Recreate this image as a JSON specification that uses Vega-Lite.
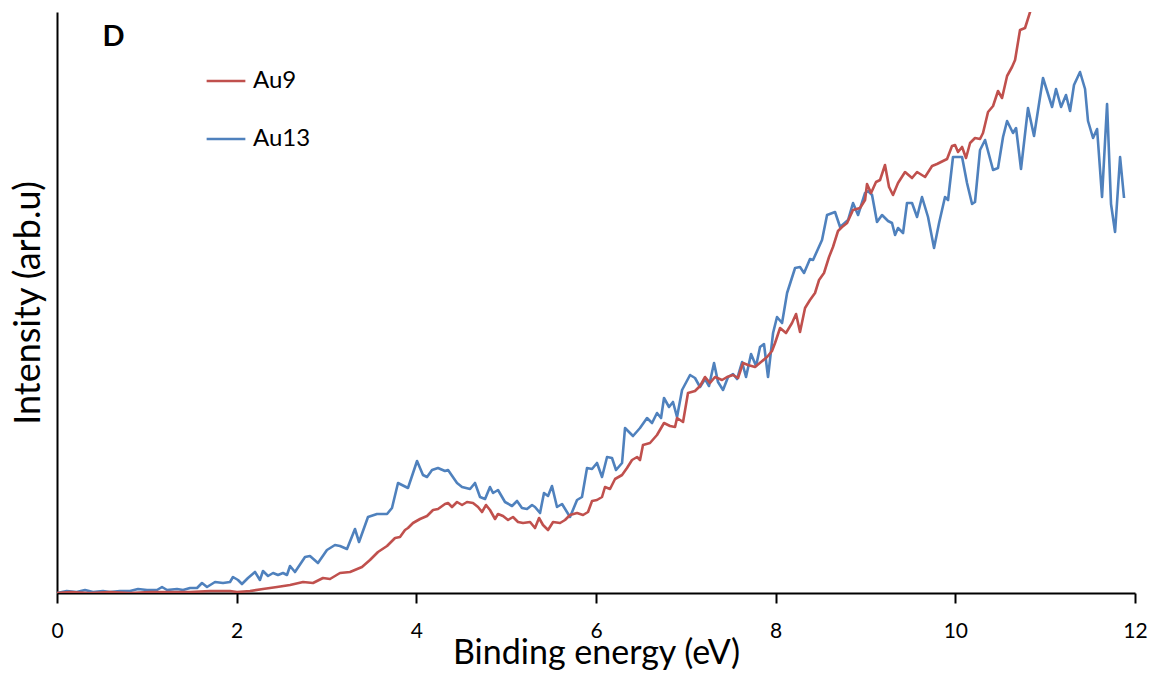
{
  "$schema": "https://vega.github.io/schema/vega-lite/v6.json",
  "width": 1078,
  "height": 581,
  "autosize": {"type": "none"},
  "padding": {"left": 57, "top": 12, "right": 26, "bottom": 82},
  "background": "white",
  "config": {
    "view": {"stroke": null},
    "font": "Lato"
  },
  "layer": [
    {
      "data": {"values": [
        {"s":"Au13","x":0.0,"y":0},{"s":"Au13","x":0.108,"y":2},{"s":"Au13","x":0.219,"y":1},{"s":"Au13","x":0.312,"y":3},{"s":"Au13","x":0.401,"y":1},{"s":"Au13","x":0.512,"y":2},{"s":"Au13","x":0.59,"y":1},{"s":"Au13","x":0.701,"y":2},{"s":"Au13","x":0.813,"y":2},{"s":"Au13","x":0.902,"y":4},{"s":"Au13","x":1.002,"y":3},{"s":"Au13","x":1.113,"y":3},{"s":"Au13","x":1.169,"y":6},{"s":"Au13","x":1.225,"y":3},{"s":"Au13","x":1.336,"y":4},{"s":"Au13","x":1.403,"y":3},{"s":"Au13","x":1.481,"y":5},{"s":"Au13","x":1.559,"y":5},{"s":"Au13","x":1.614,"y":10},{"s":"Au13","x":1.67,"y":6},{"s":"Au13","x":1.759,"y":11},{"s":"Au13","x":1.848,"y":10},{"s":"Au13","x":1.926,"y":11},{"s":"Au13","x":1.959,"y":16},{"s":"Au13","x":2.015,"y":13},{"s":"Au13","x":2.059,"y":9},{"s":"Au13","x":2.126,"y":15},{"s":"Au13","x":2.204,"y":21},{"s":"Au13","x":2.259,"y":13},{"s":"Au13","x":2.293,"y":22},{"s":"Au13","x":2.349,"y":17},{"s":"Au13","x":2.405,"y":20},{"s":"Au13","x":2.46,"y":18},{"s":"Au13","x":2.516,"y":20},{"s":"Au13","x":2.56,"y":18},{"s":"Au13","x":2.594,"y":27},{"s":"Au13","x":2.649,"y":21},{"s":"Au13","x":2.761,"y":36},{"s":"Au13","x":2.816,"y":37},{"s":"Au13","x":2.905,"y":30},{"s":"Au13","x":3.005,"y":43},{"s":"Au13","x":3.094,"y":48},{"s":"Au13","x":3.15,"y":47},{"s":"Au13","x":3.228,"y":44},{"s":"Au13","x":3.317,"y":64},{"s":"Au13","x":3.362,"y":51},{"s":"Au13","x":3.462,"y":76},{"s":"Au13","x":3.562,"y":79},{"s":"Au13","x":3.674,"y":79},{"s":"Au13","x":3.729,"y":85},{"s":"Au13","x":3.796,"y":110},{"s":"Au13","x":3.907,"y":105},{"s":"Au13","x":4.008,"y":132},{"s":"Au13","x":4.074,"y":118},{"s":"Au13","x":4.119,"y":116},{"s":"Au13","x":4.175,"y":123},{"s":"Au13","x":4.241,"y":125},{"s":"Au13","x":4.319,"y":122},{"s":"Au13","x":4.353,"y":123},{"s":"Au13","x":4.453,"y":110},{"s":"Au13","x":4.509,"y":106},{"s":"Au13","x":4.598,"y":104},{"s":"Au13","x":4.653,"y":110},{"s":"Au13","x":4.709,"y":96},{"s":"Au13","x":4.765,"y":94},{"s":"Au13","x":4.82,"y":106},{"s":"Au13","x":4.854,"y":100},{"s":"Au13","x":4.909,"y":103},{"s":"Au13","x":4.987,"y":91},{"s":"Au13","x":5.065,"y":87},{"s":"Au13","x":5.121,"y":92},{"s":"Au13","x":5.176,"y":85},{"s":"Au13","x":5.232,"y":84},{"s":"Au13","x":5.288,"y":88},{"s":"Au13","x":5.321,"y":86},{"s":"Au13","x":5.377,"y":80},{"s":"Au13","x":5.421,"y":100},{"s":"Au13","x":5.466,"y":97},{"s":"Au13","x":5.51,"y":107},{"s":"Au13","x":5.566,"y":86},{"s":"Au13","x":5.622,"y":89},{"s":"Au13","x":5.711,"y":76},{"s":"Au13","x":5.789,"y":93},{"s":"Au13","x":5.844,"y":96},{"s":"Au13","x":5.9,"y":125},{"s":"Au13","x":5.956,"y":124},{"s":"Au13","x":6.011,"y":130},{"s":"Au13","x":6.067,"y":116},{"s":"Au13","x":6.123,"y":136},{"s":"Au13","x":6.178,"y":135},{"s":"Au13","x":6.223,"y":123},{"s":"Au13","x":6.29,"y":130},{"s":"Au13","x":6.323,"y":165},{"s":"Au13","x":6.412,"y":157},{"s":"Au13","x":6.49,"y":165},{"s":"Au13","x":6.568,"y":175},{"s":"Au13","x":6.624,"y":170},{"s":"Au13","x":6.679,"y":180},{"s":"Au13","x":6.724,"y":175},{"s":"Au13","x":6.757,"y":195},{"s":"Au13","x":6.813,"y":186},{"s":"Au13","x":6.857,"y":191},{"s":"Au13","x":6.902,"y":176},{"s":"Au13","x":6.958,"y":203},{"s":"Au13","x":7.047,"y":218},{"s":"Au13","x":7.102,"y":215},{"s":"Au13","x":7.158,"y":206},{"s":"Au13","x":7.214,"y":214},{"s":"Au13","x":7.258,"y":207},{"s":"Au13","x":7.314,"y":230},{"s":"Au13","x":7.358,"y":211},{"s":"Au13","x":7.414,"y":203},{"s":"Au13","x":7.47,"y":216},{"s":"Au13","x":7.525,"y":219},{"s":"Au13","x":7.57,"y":214},{"s":"Au13","x":7.626,"y":231},{"s":"Au13","x":7.67,"y":216},{"s":"Au13","x":7.726,"y":239},{"s":"Au13","x":7.782,"y":227},{"s":"Au13","x":7.826,"y":246},{"s":"Au13","x":7.87,"y":249},{"s":"Au13","x":7.915,"y":216},{"s":"Au13","x":7.971,"y":260},{"s":"Au13","x":8.015,"y":276},{"s":"Au13","x":8.071,"y":270},{"s":"Au13","x":8.127,"y":300},{"s":"Au13","x":8.216,"y":325},{"s":"Au13","x":8.271,"y":326},{"s":"Au13","x":8.316,"y":320},{"s":"Au13","x":8.382,"y":334},{"s":"Au13","x":8.416,"y":333},{"s":"Au13","x":8.516,"y":353},{"s":"Au13","x":8.572,"y":378},{"s":"Au13","x":8.661,"y":381},{"s":"Au13","x":8.717,"y":366},{"s":"Au13","x":8.806,"y":373},{"s":"Au13","x":8.861,"y":390},{"s":"Au13","x":8.917,"y":378},{"s":"Au13","x":8.995,"y":400},{"s":"Au13","x":9.028,"y":402},{"s":"Au13","x":9.073,"y":398},{"s":"Au13","x":9.128,"y":371},{"s":"Au13","x":9.184,"y":378},{"s":"Au13","x":9.251,"y":372},{"s":"Au13","x":9.295,"y":370},{"s":"Au13","x":9.329,"y":358},{"s":"Au13","x":9.362,"y":365},{"s":"Au13","x":9.418,"y":360},{"s":"Au13","x":9.462,"y":390},{"s":"Au13","x":9.518,"y":390},{"s":"Au13","x":9.574,"y":376},{"s":"Au13","x":9.629,"y":396},{"s":"Au13","x":9.696,"y":376},{"s":"Au13","x":9.763,"y":345},{"s":"Au13","x":9.819,"y":370},{"s":"Au13","x":9.885,"y":396},{"s":"Au13","x":9.919,"y":393},{"s":"Au13","x":9.974,"y":436},{"s":"Au13","x":10.075,"y":436},{"s":"Au13","x":10.13,"y":410},{"s":"Au13","x":10.186,"y":389},{"s":"Au13","x":10.219,"y":391},{"s":"Au13","x":10.275,"y":443},{"s":"Au13","x":10.331,"y":453},{"s":"Au13","x":10.42,"y":423},{"s":"Au13","x":10.475,"y":425},{"s":"Au13","x":10.531,"y":456},{"s":"Au13","x":10.576,"y":472},{"s":"Au13","x":10.642,"y":460},{"s":"Au13","x":10.676,"y":465},{"s":"Au13","x":10.731,"y":424},{"s":"Au13","x":10.809,"y":485},{"s":"Au13","x":10.876,"y":457},{"s":"Au13","x":10.976,"y":515},{"s":"Au13","x":11.077,"y":486},{"s":"Au13","x":11.121,"y":504},{"s":"Au13","x":11.177,"y":486},{"s":"Au13","x":11.232,"y":498},{"s":"Au13","x":11.277,"y":482},{"s":"Au13","x":11.321,"y":508},{"s":"Au13","x":11.388,"y":521},{"s":"Au13","x":11.444,"y":504},{"s":"Au13","x":11.477,"y":472},{"s":"Au13","x":11.533,"y":455},{"s":"Au13","x":11.578,"y":464},{"s":"Au13","x":11.633,"y":396},{"s":"Au13","x":11.689,"y":489},{"s":"Au13","x":11.733,"y":389},{"s":"Au13","x":11.778,"y":361},{"s":"Au13","x":11.834,"y":436},{"s":"Au13","x":11.878,"y":395},
        {"s":"Au9","x":0.0,"y":0},{"s":"Au9","x":0.145,"y":1},{"s":"Au9","x":0.367,"y":0},{"s":"Au9","x":0.59,"y":1},{"s":"Au9","x":0.813,"y":0},{"s":"Au9","x":1.035,"y":1},{"s":"Au9","x":1.258,"y":1},{"s":"Au9","x":1.481,"y":1},{"s":"Au9","x":1.703,"y":2},{"s":"Au9","x":1.926,"y":2},{"s":"Au9","x":2.004,"y":1},{"s":"Au9","x":2.149,"y":2},{"s":"Au9","x":2.293,"y":4},{"s":"Au9","x":2.449,"y":6},{"s":"Au9","x":2.594,"y":8},{"s":"Au9","x":2.739,"y":11},{"s":"Au9","x":2.85,"y":10},{"s":"Au9","x":2.961,"y":15},{"s":"Au9","x":3.039,"y":14},{"s":"Au9","x":3.15,"y":20},{"s":"Au9","x":3.262,"y":21},{"s":"Au9","x":3.395,"y":26},{"s":"Au9","x":3.484,"y":33},{"s":"Au9","x":3.573,"y":41},{"s":"Au9","x":3.674,"y":47},{"s":"Au9","x":3.763,"y":55},{"s":"Au9","x":3.818,"y":56},{"s":"Au9","x":3.874,"y":63},{"s":"Au9","x":3.907,"y":65},{"s":"Au9","x":3.963,"y":70},{"s":"Au9","x":4.041,"y":74},{"s":"Au9","x":4.119,"y":77},{"s":"Au9","x":4.186,"y":83},{"s":"Au9","x":4.241,"y":84},{"s":"Au9","x":4.319,"y":89},{"s":"Au9","x":4.353,"y":90},{"s":"Au9","x":4.397,"y":86},{"s":"Au9","x":4.453,"y":91},{"s":"Au9","x":4.509,"y":88},{"s":"Au9","x":4.564,"y":91},{"s":"Au9","x":4.631,"y":90},{"s":"Au9","x":4.687,"y":86},{"s":"Au9","x":4.731,"y":81},{"s":"Au9","x":4.776,"y":88},{"s":"Au9","x":4.82,"y":83},{"s":"Au9","x":4.876,"y":74},{"s":"Au9","x":4.909,"y":79},{"s":"Au9","x":4.965,"y":77},{"s":"Au9","x":5.021,"y":73},{"s":"Au9","x":5.076,"y":76},{"s":"Au9","x":5.132,"y":71},{"s":"Au9","x":5.188,"y":70},{"s":"Au9","x":5.266,"y":71},{"s":"Au9","x":5.321,"y":65},{"s":"Au9","x":5.366,"y":75},{"s":"Au9","x":5.41,"y":68},{"s":"Au9","x":5.466,"y":63},{"s":"Au9","x":5.522,"y":71},{"s":"Au9","x":5.6,"y":70},{"s":"Au9","x":5.655,"y":73},{"s":"Au9","x":5.711,"y":78},{"s":"Au9","x":5.789,"y":80},{"s":"Au9","x":5.856,"y":78},{"s":"Au9","x":5.911,"y":81},{"s":"Au9","x":5.956,"y":92},{"s":"Au9","x":6.011,"y":93},{"s":"Au9","x":6.067,"y":96},{"s":"Au9","x":6.1,"y":106},{"s":"Au9","x":6.156,"y":104},{"s":"Au9","x":6.212,"y":114},{"s":"Au9","x":6.29,"y":118},{"s":"Au9","x":6.345,"y":125},{"s":"Au9","x":6.401,"y":133},{"s":"Au9","x":6.457,"y":136},{"s":"Au9","x":6.49,"y":133},{"s":"Au9","x":6.523,"y":148},{"s":"Au9","x":6.601,"y":150},{"s":"Au9","x":6.679,"y":158},{"s":"Au9","x":6.757,"y":170},{"s":"Au9","x":6.824,"y":167},{"s":"Au9","x":6.88,"y":166},{"s":"Au9","x":6.902,"y":175},{"s":"Au9","x":6.969,"y":171},{"s":"Au9","x":7.024,"y":200},{"s":"Au9","x":7.102,"y":202},{"s":"Au9","x":7.158,"y":207},{"s":"Au9","x":7.214,"y":216},{"s":"Au9","x":7.269,"y":210},{"s":"Au9","x":7.325,"y":216},{"s":"Au9","x":7.403,"y":213},{"s":"Au9","x":7.459,"y":216},{"s":"Au9","x":7.525,"y":218},{"s":"Au9","x":7.581,"y":215},{"s":"Au9","x":7.637,"y":230},{"s":"Au9","x":7.692,"y":228},{"s":"Au9","x":7.77,"y":226},{"s":"Au9","x":7.837,"y":231},{"s":"Au9","x":7.904,"y":236},{"s":"Au9","x":7.959,"y":242},{"s":"Au9","x":7.993,"y":250},{"s":"Au9","x":8.049,"y":265},{"s":"Au9","x":8.115,"y":260},{"s":"Au9","x":8.182,"y":270},{"s":"Au9","x":8.227,"y":279},{"s":"Au9","x":8.271,"y":261},{"s":"Au9","x":8.327,"y":285},{"s":"Au9","x":8.382,"y":293},{"s":"Au9","x":8.438,"y":300},{"s":"Au9","x":8.483,"y":313},{"s":"Au9","x":8.538,"y":320},{"s":"Au9","x":8.594,"y":336},{"s":"Au9","x":8.638,"y":346},{"s":"Au9","x":8.694,"y":362},{"s":"Au9","x":8.739,"y":366},{"s":"Au9","x":8.795,"y":370},{"s":"Au9","x":8.861,"y":383},{"s":"Au9","x":8.939,"y":385},{"s":"Au9","x":8.995,"y":393},{"s":"Au9","x":9.017,"y":409},{"s":"Au9","x":9.062,"y":400},{"s":"Au9","x":9.117,"y":411},{"s":"Au9","x":9.162,"y":413},{"s":"Au9","x":9.217,"y":428},{"s":"Au9","x":9.262,"y":406},{"s":"Au9","x":9.306,"y":398},{"s":"Au9","x":9.362,"y":410},{"s":"Au9","x":9.44,"y":421},{"s":"Au9","x":9.518,"y":415},{"s":"Au9","x":9.574,"y":421},{"s":"Au9","x":9.663,"y":416},{"s":"Au9","x":9.741,"y":427},{"s":"Au9","x":9.796,"y":429},{"s":"Au9","x":9.863,"y":432},{"s":"Au9","x":9.908,"y":434},{"s":"Au9","x":9.963,"y":447},{"s":"Au9","x":9.997,"y":448},{"s":"Au9","x":10.03,"y":441},{"s":"Au9","x":10.075,"y":446},{"s":"Au9","x":10.119,"y":435},{"s":"Au9","x":10.164,"y":450},{"s":"Au9","x":10.219,"y":455},{"s":"Au9","x":10.275,"y":454},{"s":"Au9","x":10.308,"y":460},{"s":"Au9","x":10.364,"y":481},{"s":"Au9","x":10.42,"y":487},{"s":"Au9","x":10.475,"y":502},{"s":"Au9","x":10.52,"y":495},{"s":"Au9","x":10.576,"y":517},{"s":"Au9","x":10.631,"y":526},{"s":"Au9","x":10.665,"y":533},{"s":"Au9","x":10.72,"y":563},{"s":"Au9","x":10.776,"y":565},{"s":"Au9","x":10.832,"y":581},{"s":"Au9","x":10.899,"y":603}
      ]},
      "mark": {"type": "line", "strokeWidth": 2.6, "clip": true, "strokeJoin": "round"},
      "encoding": {
        "x": {
          "field": "x", "type": "quantitative",
          "scale": {"domain": [0, 12], "nice": false, "zero": false},
          "axis": {
            "values": [0, 2, 4, 6, 8, 10, 12],
            "format": "d",
            "title": "Binding energy (eV)",
            "titleFont": "Lato", "titleFontSize": 34, "titleFontWeight": "normal", "titleColor": "#000000",
            "titlePadding": -5,
            "labelFont": "Lato", "labelFontSize": 21, "labelColor": "#000000", "labelPadding": 17,
            "domainColor": "#000000", "domainWidth": 2,
            "tickColor": "#000000", "tickWidth": 2, "tickSize": 10,
            "grid": false, "labelFlush": false
          }
        },
        "y": {
          "field": "y", "type": "quantitative",
          "scale": {"domain": [0, 581], "nice": false, "zero": true},
          "axis": {
            "title": "Intensity (arb.u)",
            "titleFont": "Lato", "titleFontSize": 36, "titleFontWeight": "normal", "titleColor": "#000000",
            "titlePadding": 10,
            "labels": false, "ticks": false, "grid": false,
            "domainColor": "#000000", "domainWidth": 2
          }
        },
        "color": {
          "field": "s", "type": "nominal",
          "scale": {"domain": ["Au9", "Au13"], "range": ["#C0504D", "#4F81BD"]},
          "legend": {
            "title": null,
            "orient": "none",
            "legendX": 148,
            "legendY": 48,
            "symbolType": "stroke",
            "symbolSize": 1500,
            "symbolStrokeWidth": 2.6,
            "labelFont": "Lato",
            "labelFontSize": 24,
            "labelColor": "#000000",
            "labelOffset": 6,
            "rowPadding": 25
          }
        }
      }
    },
    {
      "data": {"values": [{"x": 0.63, "y": 556, "label": "D"}]},
      "mark": {"type": "text", "font": "Lato", "fontWeight": "bold", "fontSize": 29, "color": "#000000"},
      "encoding": {
        "x": {"field": "x", "type": "quantitative"},
        "y": {"field": "y", "type": "quantitative"},
        "text": {"field": "label"}
      }
    }
  ]
}
